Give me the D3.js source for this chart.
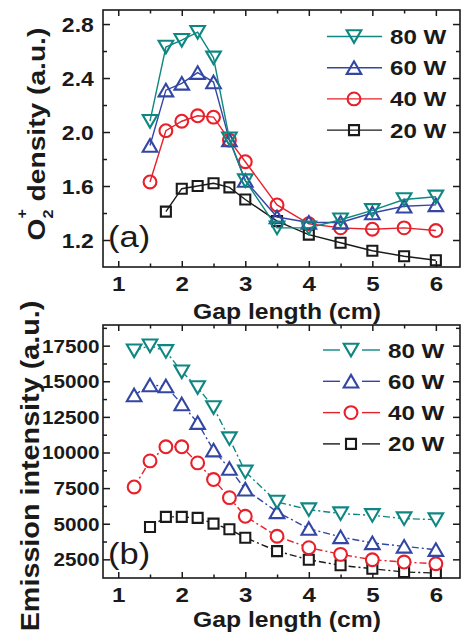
<!DOCTYPE html>
<html>
<head>
<meta charset="utf-8">
<script src="https://cdn.jsdelivr.net/npm/d3@7"></script>
<style>
  body { margin: 0; background: #fff; }
  svg { display: block; }
  text { font-family: "Liberation Sans", Arial, Helvetica, sans-serif; fill: #1a1a1a; }
</style>
</head>
<body>
<svg id="chart" width="464" height="636"></svg>
<script>
// ---- data ----
const powers = ["80 W", "60 W", "40 W", "20 W"];

// (a) O2+ density vs gap length
const gapA = [1.5, 1.75, 2, 2.25, 2.5, 2.75, 3, 3.5, 4, 4.5, 5, 5.5, 6];
const gapA20 = [1.75, 2, 2.25, 2.5, 2.75, 3, 3.5, 4, 4.5, 5, 5.5, 6];
const densA80 = [2.08, 2.63, 2.68, 2.74, 2.55, 1.95, 1.64, 1.29, 1.29, 1.35, 1.42, 1.50, 1.52];
const densA60 = [1.90, 2.31, 2.36, 2.44, 2.37, 1.94, 1.64, 1.37, 1.33, 1.33, 1.40, 1.45, 1.46];
const densA40 = [1.63, 2.01, 2.08, 2.12, 2.11, 1.94, 1.78, 1.46, 1.32, 1.29, 1.28, 1.29, 1.27];
const densA20 = [1.41, 1.58, 1.60, 1.62, 1.59, 1.50, 1.34, 1.24, 1.18, 1.12, 1.08, 1.05];

// (b) emission intensity vs gap length
const gapB = [1.25, 1.5, 1.75, 2, 2.25, 2.5, 2.75, 3, 3.5, 4, 4.5, 5, 5.5, 6];
const gapB20 = [1.5, 1.75, 2, 2.25, 2.5, 2.75, 3, 3.5, 4, 4.5, 5, 5.5, 6];
const emisB80 = [17150, 17500, 17100, 15670, 14570, 13160, 10980, 8640, 6530, 5990, 5710, 5590, 5360, 5290];
const emisB60 = [14030, 14730, 14660, 13400, 12090, 10160, 8870, 7420, 5830, 4660, 4070, 3650, 3410, 3180];
const emisB40 = [7580, 9410, 10400, 10400, 9270, 8100, 6830, 5520, 4120, 3320, 2850, 2470, 2310, 2190];
const emisB20 = [4770, 5480, 5480, 5410, 5010, 4610, 4020, 3080, 2470, 2080, 1840, 1610, 1540];

// tick labels
const xMajor = [1, 2, 3, 4, 5, 6];
const xMinor = [1.5, 2.5, 3.5, 4.5, 5.5];
const yMajorA = [1.2, 1.6, 2.0, 2.4, 2.8];
const yMinorA = [1.4, 1.8, 2.2, 2.6];
const yMajorB = [2500, 5000, 7500, 10000, 12500, 15000, 17500];
const yMinorB = [3750, 6250, 8750, 11250, 13750, 16250, 18750];

// ---- styling ----
const styles = {
  "80 W": { color: "#0f8781", shape: "down" },
  "60 W": { color: "#3346a3", shape: "up" },
  "40 W": { color: "#e8202a", shape: "circle" },
  "20 W": { color: "#1a1a1a", shape: "square" }
};
const STRETCH = "scale(1.15,1)";

function markerPath(shape) {
  switch (shape) {
    case "down":   return "M-7.3,-6.2L7.3,-6.2L0,6.4Z";
    case "up":     return "M0,-6.4L7.3,6.2L-7.3,6.2Z";
    case "circle": return d3.symbol(d3.symbolCircle, Math.PI * 6.4 * 6.4)();
    default:       return "M-5,-5H5V5H-5Z";
  }
}

const svg = d3.select("#chart");
const x = d3.scaleLinear().domain([0.76, 6.38]).range([103, 460]);

function drawFrame(y, top, bottom, opts) {
  const left = x.range()[0], right = x.range()[1];
  const g = svg.append("g");

  const clean = sel => { sel.select(".domain").remove(); sel.attr("font-family", null).attr("font-size", null); };
  const tickStyle = sel => sel.selectAll("line").attr("stroke", "#1a1a1a").attr("stroke-width", 1.5);

  // bottom axis with labels
  const bx = g.append("g").attr("transform", `translate(0,${bottom})`)
    .call(d3.axisBottom(x).tickValues(xMajor).tickSize(-6).tickPadding(9).tickFormat(d3.format("d")));
  bx.call(clean).call(tickStyle);
  bx.selectAll("text").attr("font-size", 21).attr("font-weight", "bold").attr("transform", STRETCH).attr("fill", "#1a1a1a");
  g.append("g").attr("transform", `translate(0,${bottom})`)
    .call(d3.axisBottom(x).tickValues(xMinor).tickSize(-3.5).tickFormat("")).call(clean).call(tickStyle);
  // mirrored top ticks
  g.append("g").attr("transform", `translate(0,${top})`)
    .call(d3.axisTop(x).tickValues(xMajor).tickSize(-6).tickFormat("")).call(clean).call(tickStyle);
  g.append("g").attr("transform", `translate(0,${top})`)
    .call(d3.axisTop(x).tickValues(xMinor).tickSize(-3.5).tickFormat("")).call(clean).call(tickStyle);

  // left axis with labels
  const ly = g.append("g").attr("transform", `translate(${left},0)`)
    .call(d3.axisLeft(y).tickValues(opts.major).tickSize(-7).tickPadding(opts.pad).tickFormat(opts.fmt));
  ly.call(clean).call(tickStyle);
  ly.selectAll("text").attr("font-size", opts.fontSize).attr("font-weight", "bold")
    .attr("dy", "0.36em").attr("transform", STRETCH).attr("fill", "#1a1a1a");
  g.append("g").attr("transform", `translate(${left},0)`)
    .call(d3.axisLeft(y).tickValues(opts.minor).tickSize(-4).tickFormat("")).call(clean).call(tickStyle);
  // mirrored right ticks
  g.append("g").attr("transform", `translate(${right},0)`)
    .call(d3.axisRight(y).tickValues(opts.major).tickSize(-7).tickFormat("")).call(clean).call(tickStyle);
  g.append("g").attr("transform", `translate(${right},0)`)
    .call(d3.axisRight(y).tickValues(opts.minor).tickSize(-4).tickFormat("")).call(clean).call(tickStyle);

  g.append("rect").attr("x", left).attr("y", top).attr("width", right - left).attr("height", bottom - top)
    .attr("fill", "none").attr("stroke", "#1a1a1a").attr("stroke-width", 1.6);
}

function drawSeries(y, gap, vals, name, opts) {
  const st = styles[name];
  const pts = gap.map((g, i) => [g, vals[i]]);
  const line = d3.line().x(d => x(d[0])).y(d => y(d[1]));
  const g = svg.append("g");
  g.append("path").attr("d", line(pts)).attr("fill", "none").attr("stroke", st.color)
    .attr("stroke-width", 1.4).attr("stroke-dasharray", opts.dash || null);
  g.selectAll("path.m").data(pts).join("path").attr("class", "m")
    .attr("d", markerPath(st.shape))
    .attr("transform", d => `translate(${x(d[0])},${y(d[1])})`)
    .attr("fill", opts.fill).attr("stroke", st.color).attr("stroke-width", 2.1);
}

function drawLegend(rows, opts) {
  const g = svg.append("g");
  rows.forEach((name, i) => {
    const st = styles[name];
    const cy = opts.y0 + i * opts.dy;
    if (opts.gapped) {
      g.append("line").attr("x1", opts.x1).attr("x2", opts.xm - 11).attr("y1", cy).attr("y2", cy)
        .attr("stroke", st.color).attr("stroke-width", 1.4);
      g.append("line").attr("x1", opts.xm + 11).attr("x2", opts.x2).attr("y1", cy).attr("y2", cy)
        .attr("stroke", st.color).attr("stroke-width", 1.4);
    } else {
      g.append("line").attr("x1", opts.x1).attr("x2", opts.x2).attr("y1", cy).attr("y2", cy)
        .attr("stroke", st.color).attr("stroke-width", 1.4);
    }
    g.append("path").attr("d", markerPath(st.shape)).attr("transform", `translate(${opts.xm},${cy})`)
      .attr("fill", opts.fill).attr("stroke", st.color).attr("stroke-width", 2.1);
    g.append("text").attr("transform", `translate(${opts.tx},${cy + 7.5}) ${STRETCH}`)
      .attr("font-size", 21).attr("font-weight", "bold").text(name);
  });
}

// ---- panel (a) ----
const yA = d3.scaleLinear().domain([1.0, 2.904]).range([267, 10]);
drawFrame(yA, 10, 267, { major: yMajorA, minor: yMinorA, fmt: d3.format(".1f"), fontSize: 20, pad: 8 });
drawSeries(yA, gapA20, densA20, "20 W", { fill: "none" });
drawSeries(yA, gapA, densA40, "40 W", { fill: "none" });
drawSeries(yA, gapA, densA60, "60 W", { fill: "none" });
drawSeries(yA, gapA, densA80, "80 W", { fill: "none" });
drawLegend(powers, { x1: 327, x2: 382, xm: 354, tx: 390, y0: 36.5, dy: 31.2, fill: "none", gapped: false });

svg.append("text").attr("transform", `translate(108,247) ${STRETCH}`)
  .attr("font-size", 30).text("(a)");

svg.append("text").attr("transform", `translate(287,319) ${STRETCH}`)
  .attr("text-anchor", "middle").attr("font-size", 21.5).attr("font-weight", "bold").text("Gap length (cm)");

const tA = svg.append("text").attr("transform", `translate(44.5,240.5) rotate(-90) ${STRETCH}`)
  .attr("font-size", 24.5).attr("font-weight", "bold");
tA.append("tspan").text("O");
tA.append("tspan").attr("font-size", 14).attr("dy", 8).text("2");
tA.append("tspan").attr("font-size", 14).attr("dx", -7.8).attr("dy", -26).text("+");
tA.append("tspan").attr("dy", 18).text(" density (a.u.)");

// ---- panel (b) ----
const yB = d3.scaleLinear().domain([1190, 18950]).range([578, 325]);
drawFrame(yB, 325, 578, { major: yMajorB, minor: yMinorB, fmt: d3.format("d"), fontSize: 18, pad: 3 });
const dashDot = "7,3,2,3";
drawSeries(yB, gapB20, emisB20, "20 W", { fill: "#fff", dash: dashDot });
drawSeries(yB, gapB, emisB40, "40 W", { fill: "#fff", dash: dashDot });
drawSeries(yB, gapB, emisB60, "60 W", { fill: "#fff", dash: dashDot });
drawSeries(yB, gapB, emisB80, "80 W", { fill: "#fff", dash: dashDot });
drawLegend(powers, { x1: 323, x2: 380, xm: 351, tx: 388, y0: 350, dy: 31.3, fill: "#fff", gapped: true });

svg.append("text").attr("transform", `translate(108,564) ${STRETCH}`)
  .attr("font-size", 30).text("(b)");

svg.append("text").attr("transform", `translate(287,627) ${STRETCH}`)
  .attr("text-anchor", "middle").attr("font-size", 21.5).attr("font-weight", "bold").text("Gap length (cm)");

svg.append("text").attr("transform", `translate(38.5,466) rotate(-90) ${STRETCH}`)
  .attr("text-anchor", "middle").attr("font-size", 25).attr("font-weight", "bold")
  .text("Emission intensity (a.u.)");
</script>
</body>
</html>
